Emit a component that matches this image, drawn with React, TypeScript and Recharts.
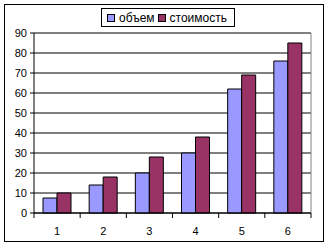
import { BarChart, Bar, XAxis, YAxis, CartesianGrid, Legend } from 'recharts'

const categories = ['1', '2', '3', '4', '5', '6']
const volume = [7.5, 14, 20, 30, 62, 76]
const cost = [10, 18, 28, 38, 69, 85]
const yTicks = [0, 10, 20, 30, 40, 50, 60, 70, 80, 90]

const data = categories.map((c, i) => ({ cat: c, volume: volume[i], cost: cost[i] }))

const font = '"Liberation Sans", Arial, sans-serif'

// ticks sit between categories like in excel, labels in the middle
function CategoryTick(props: any) {
  const { x, y, payload, index, visibleTicksCount } = props
  const half = payload.offset || 0
  return (
    <g>
      <line x1={x - half} y1={y} x2={x - half} y2={y + 5} stroke="#000" />
      {index === visibleTicksCount - 1 && (
        <line x1={x + half} y1={y} x2={x + half} y2={y + 5} stroke="#000" />
      )}
      <text x={x} y={y} dy={22} textAnchor="middle" fontSize={11} fill="#000" fontFamily={font}>
        {payload.value}
      </text>
    </g>
  )
}

function LegendBox(props: any) {
  const { payload } = props
  return (
    <div
      style={{
        display: 'flex',
        alignItems: 'center',
        border: '1px solid #000',
        background: '#fff',
        padding: '0 4px 0 5px',
        fontFamily: font,
        fontSize: 12,
        color: '#000',
        height: 19,
        boxSizing: 'border-box',
      }}
    >
      {(payload || []).map((p: any) => (
        <span key={p.value} style={{ display: 'flex', alignItems: 'center', marginRight: 3 }}>
          <span
            style={{
              display: 'inline-block',
              width: 6,
              height: 6,
              background: p.color,
              border: '1px solid #000',
              marginRight: 4,
            }}
          />
          {p.value}
        </span>
      ))}
    </div>
  )
}

export default function App() {
  return (
    <div style={{ position: 'fixed', left: 0, top: 0, width: 329, height: 247, background: '#fff' }}>
      <div
        style={{
          position: 'absolute',
          left: 4,
          top: 4,
          width: 318,
          height: 236,
          border: '1px solid #000',
        }}
      />
      <BarChart
        width={329}
        height={247}
        data={data}
        margin={{ top: 33, right: 18, left: 0, bottom: 0 }}
        barCategoryGap={9}
        barGap={0}
      >
        <CartesianGrid vertical={false} stroke="#000" />
        <CartesianGrid
          stroke="#808080"
          horizontalCoordinatesGenerator={({ offset }: any) => [offset.top]}
          verticalCoordinatesGenerator={({ offset }: any) => [offset.left + offset.width]}
        />
        <XAxis
          dataKey="cat"
          height={34}
          axisLine={{ stroke: '#000' }}
          tickLine={false}
          tickSize={0}
          tickMargin={0}
          tick={<CategoryTick />}
          interval={0}
        />
        <YAxis
          width={34}
          domain={[0, 90]}
          ticks={yTicks}
          interval={0}
          axisLine={{ stroke: '#000' }}
          tickLine={{ stroke: '#000' }}
          tickSize={4}
          tickMargin={3}
          tick={{ fontSize: 11, fill: '#000', fontFamily: font }}
        />
        <Legend
          layout="vertical"
          align="center"
          verticalAlign="middle"
          wrapperStyle={{ top: 8, left: 101, width: 'auto' }}
          content={<LegendBox />}
        />
        <Bar dataKey="volume" name="объем" fill="#9999FF" stroke="#000" strokeWidth={1} isAnimationActive={false} />
        <Bar dataKey="cost" name="стоимость" fill="#993366" stroke="#000" strokeWidth={1} isAnimationActive={false} />
      </BarChart>
    </div>
  )
}
